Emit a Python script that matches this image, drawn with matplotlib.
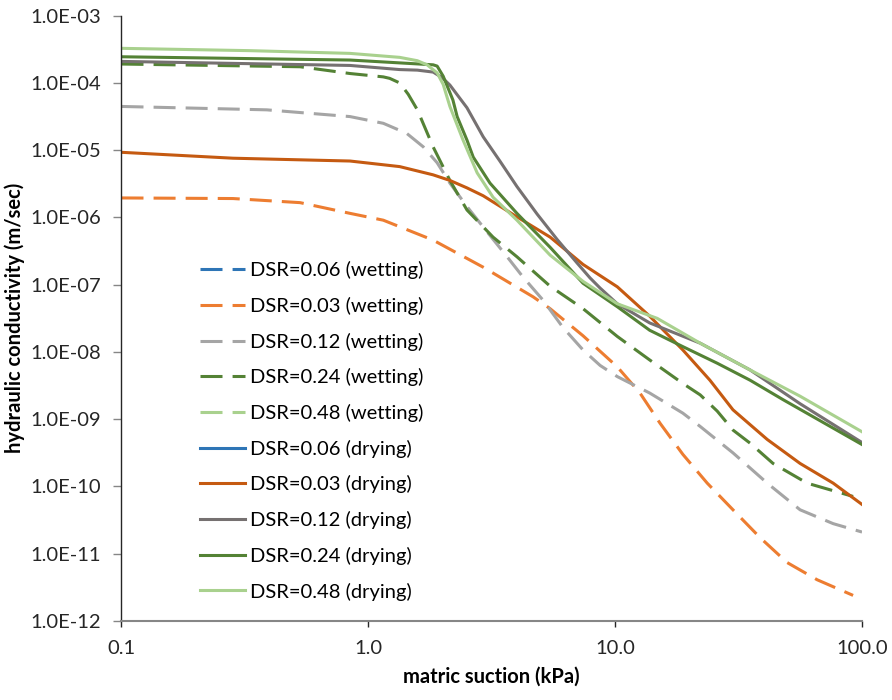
import matplotlib
matplotlib.use("Agg")
import matplotlib.pyplot as plt
from matplotlib.ticker import FuncFormatter, FixedLocator, NullLocator

# Datos (succion en kPa, conductividad en m/s)

# DSR=0.03 (wetting)
x_003_w = [0.1, 0.283, 0.529, 0.843, 1.15, 1.83, 2.92, 4.65, 5.45, 7.41, 10.2, 12.6, 15.2, 18.8, 23.6,
           30.0, 38.6, 49.7, 65.8, 92]
k_003_w = [1.95e-6, 1.91e-6, 1.66e-6, 1.15e-6, 9.1e-7, 4.6e-7, 1.82e-7, 6.6e-8, 4.4e-8, 1.74e-8, 6.0e-9,
           2.45e-9, 8.7e-10, 3.0e-10, 1.12e-10, 4.5e-11, 1.74e-11, 7.4e-12, 4.1e-12, 2.4e-12]

# DSR=0.12 (wetting)
x_012_w = [0.1, 0.388, 0.843, 1.15, 1.43, 1.67, 1.90, 2.14, 2.51, 2.92, 3.65, 4.24, 5.10, 6.15, 7.41, 8.69,
           10.2, 13.8, 18.8, 22.1, 30.0, 41.3, 56.1, 76.4, 100]
k_012_w = [4.47e-5, 3.98e-5, 3.16e-5, 2.51e-5, 1.78e-5, 1.12e-5, 6.5e-6, 3.24e-6, 1.45e-6, 7.2e-7, 2.6e-7,
           1.29e-7, 5.9e-8, 2.3e-8, 1.07e-8, 6.3e-9, 4.3e-9, 2.45e-9, 1.23e-9, 7.8e-10, 3.16e-10, 1.12e-10,
           4.5e-11, 2.8e-11, 2.1e-11]

# DSR=0.24 (wetting)
x_024_w = [0.1, 0.529, 0.843, 1.15, 1.22, 1.34, 1.45, 1.58, 1.83, 2.14, 2.51, 3.20, 4.0, 5.45, 7.41, 10.2,
           13.8, 18.8, 22.1, 25.9, 30.0, 35.2, 43.6, 59.9, 92]
k_024_w = [1.91e-4, 1.74e-4, 1.38e-4, 1.23e-4, 1.17e-4, 1.0e-4, 6.8e-5, 3.98e-5, 1.12e-5, 3.55e-6, 1.29e-6,
           5.1e-7, 2.6e-7, 9.5e-8, 4.4e-8, 1.7e-8, 7.6e-9, 3.4e-9, 2.3e-9, 1.32e-9, 6.9e-10, 4.4e-10,
           2.2e-10, 1.12e-10, 7.1e-11]

# DSR=0.06 y DSR=0.48 (wetting): no se ven en el grafico
x_006_w = []
k_006_w = []
x_048_w = []
k_048_w = []

# DSR=0.03 (drying)
x_003_d = [0.1, 0.283, 0.843, 1.34, 1.83, 2.14, 2.51, 2.92, 4.0, 5.45, 7.41, 10.2, 13.8, 18.8, 24.2, 30.0,
           35.2, 41.3, 56.1, 76.4, 100]
k_003_d = [9.3e-6, 7.6e-6, 6.9e-6, 5.7e-6, 4.3e-6, 3.55e-6, 2.75e-6, 2.1e-6, 1.02e-6, 5.1e-7, 2.0e-7,
           9.3e-8, 3.4e-8, 1.07e-8, 3.8e-9, 1.38e-9, 8.3e-10, 5.0e-10, 2.2e-10, 1.12e-10, 5.4e-11]

# DSR=0.12 (drying)
x_012_d = [0.1, 0.843, 1.34, 1.58, 1.83, 1.99, 2.14, 2.51, 2.92, 3.42, 4.0, 4.83, 5.82, 7.01, 7.91, 8.69,
           10.2, 13.8, 22.1, 35.2, 56.1, 100]
k_012_d = [2.09e-4, 1.82e-4, 1.58e-4, 1.55e-4, 1.45e-4, 1.20e-4, 9.3e-5, 4.27e-5, 1.58e-5, 6.8e-6, 2.88e-6,
           1.12e-6, 4.7e-7, 2.1e-7, 1.26e-7, 8.9e-8, 5.2e-8, 2.7e-8, 1.35e-8, 5.4e-9, 1.7e-9, 4.5e-10]

# DSR=0.24 (drying)
x_024_d = [0.1, 0.843, 1.83, 1.90, 2.01, 2.20, 2.29, 2.51, 2.66, 3.11, 4.0, 5.45, 7.41, 10.2, 13.8, 18.8,
           25.9, 35.2, 47.9, 100]
k_024_d = [2.45e-4, 2.19e-4, 1.86e-4, 1.78e-4, 1.26e-4, 5.6e-5, 3.16e-5, 1.41e-5, 7.9e-6, 3.24e-6, 1.15e-6,
           3.6e-7, 1.05e-7, 4.7e-8, 2.1e-8, 1.2e-8, 6.8e-9, 3.8e-9, 1.95e-9, 4.2e-10]

# DSR=0.48 (drying)
x_048_d = [0.1, 0.331, 0.843, 1.34, 1.58, 1.73, 1.90, 2.01, 2.14, 2.42, 2.76, 3.20, 4.0, 5.45, 7.41, 10.2,
           14.8, 22.1, 35.2, 56.1, 100]
k_048_d = [3.27e-4, 3.02e-4, 2.75e-4, 2.40e-4, 2.14e-4, 1.86e-4, 1.41e-4, 9.5e-5, 4.47e-5, 1.41e-5, 4.6e-6,
           2.0e-6, 9.1e-7, 2.75e-7, 1.12e-7, 5.2e-8, 3.16e-8, 1.35e-8, 5.4e-9, 2.2e-9, 6.5e-10]

# DSR=0.06 (drying): no se ve en el grafico
x_006_d = []
k_006_d = []

x_ticks = [0.1, 1, 10, 100]
y_ticks = [1e-12, 1e-11, 1e-10, 1e-9, 1e-8, 1e-7, 1e-6, 1e-5, 1e-4, 1e-3]

azul = "#2E75B6"
naranjo_w = "#ED7D31"
naranjo_d = "#C55A11"
gris_w = "#A5A5A5"
gris_d = "#767171"
verde = "#548235"
verde_claro = "#A9D18E"

plt.rcParams["font.family"] = ["Lato", "DejaVu Sans"]

fig = plt.figure(figsize=(8.92, 7.0), dpi=100)
ax = fig.add_axes([0.1362, 0.1129, 0.8302, 0.8647])

lw = 2.2
guion = (0, (7.2, 3.3))

series = [
    (x_006_w, k_006_w, azul, guion, "DSR=0.06 (wetting)"),
    (x_003_w, k_003_w, naranjo_w, guion, "DSR=0.03 (wetting)"),
    (x_012_w, k_012_w, gris_w, guion, "DSR=0.12 (wetting)"),
    (x_024_w, k_024_w, verde, guion, "DSR=0.24 (wetting)"),
    (x_048_w, k_048_w, verde_claro, guion, "DSR=0.48 (wetting)"),
    (x_006_d, k_006_d, azul, "-", "DSR=0.06 (drying)"),
    (x_003_d, k_003_d, naranjo_d, "-", "DSR=0.03 (drying)"),
    (x_012_d, k_012_d, gris_d, "-", "DSR=0.12 (drying)"),
    (x_024_d, k_024_d, verde, "-", "DSR=0.24 (drying)"),
    (x_048_d, k_048_d, verde_claro, "-", "DSR=0.48 (drying)"),
]

for xs, ks, color, estilo, nombre in series:
    ax.plot(xs, ks, color=color, linestyle=estilo, linewidth=lw, label=nombre,
            solid_joinstyle="round", dash_capstyle="butt")

ax.set_xscale("log")
ax.set_yscale("log")
ax.set_xlim(0.1, 100)
ax.set_ylim(1e-12, 1e-3)

ax.xaxis.set_major_locator(FixedLocator(x_ticks))
ax.yaxis.set_major_locator(FixedLocator(y_ticks))
ax.xaxis.set_minor_locator(NullLocator())
ax.yaxis.set_minor_locator(NullLocator())
ax.xaxis.set_major_formatter(FuncFormatter(lambda v, p: f"{v:.1f}"))
ax.yaxis.set_major_formatter(FuncFormatter(lambda v, p: f"{v:.1E}"))

ax.spines["top"].set_visible(False)
ax.spines["right"].set_visible(False)
ax.spines["left"].set_color("#262626")
ax.spines["left"].set_linewidth(1.0)
ax.spines["bottom"].set_color("#868686")
ax.spines["bottom"].set_linewidth(1.5)

ax.tick_params(axis="y", direction="out", length=5.8, width=1.0, color="#868686",
               labelsize=14.5, labelcolor="#262626", pad=9)
ax.tick_params(axis="x", direction="out", length=4.5, width=1.0, color="#262626",
               labelsize=14.5, labelcolor="#262626", pad=9)

ax.set_xlabel("matric suction (kPa)", fontsize=14.5, fontweight="bold", labelpad=7)
ax.set_ylabel("hydraulic conductivity (m/sec)", fontsize=14.5, fontweight="bold", labelpad=4)

ax.legend(loc="center left", bbox_to_anchor=(0.106, 0.314), frameon=False, fontsize=14.5,
          handlelength=2.25, handletextpad=0.25, labelspacing=0.875, borderaxespad=0, borderpad=0)

fig.savefig("out.png", dpi=100)
